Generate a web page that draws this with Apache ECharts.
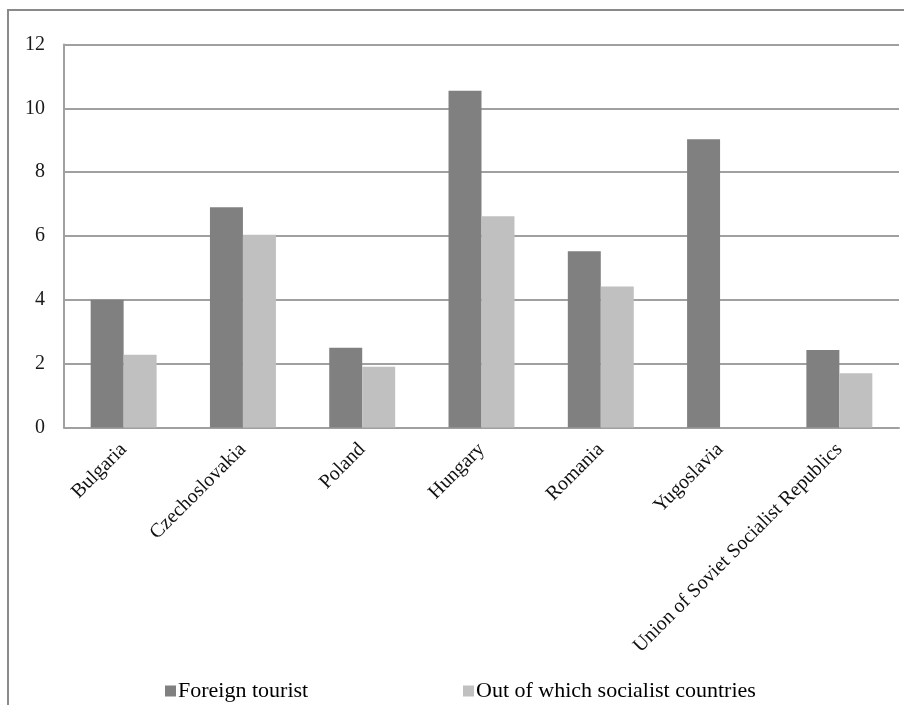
<!DOCTYPE html>
<html>
<head>
<meta charset="utf-8">
<script src="https://cdn.jsdelivr.net/npm/echarts@6/dist/echarts.min.js"></script>
<style>
  html, body { margin: 0; padding: 0; background: #fff; }
  #chart { width: 904px; height: 705px; }
</style>
</head>
<body>
<div id="chart"></div>
<script>
// Countries on the category axis
const countries = ['Bulgaria', 'Czechoslovakia', 'Poland', 'Hungary', 'Romania', 'Yugoslavia', 'Union of Soviet Socialist Republics'];
// Series values
const foreignTourist = [4.0, 6.9, 2.5, 10.55, 5.52, 9.03, 2.43];
const socialistCountries = [2.28, 6.04, 1.9, 6.62, 4.42, null, 1.7];
// Value axis ticks
const yTicks = [0, 2, 4, 6, 8, 10, 12];
const seriesNames = ['Foreign tourist', 'Out of which socialist countries'];

const FONT = '"Liberation Serif", "Times New Roman", serif';
const chart = echarts.init(document.getElementById('chart'));

const legendBase = {
  top: 675,
  itemWidth: 11,
  itemHeight: 11,
  icon: 'rect',
  textStyle: { fontFamily: FONT, fontSize: 22, color: '#000', padding: [0, 0, 0, -3] }
};

chart.setOption({
  animation: false,
  backgroundColor: '#ffffff',
  textStyle: { fontFamily: FONT, color: '#000' },
  graphic: [{
    type: 'polyline',
    shape: { points: [[8, 720], [8, 10], [920, 10]] },
    style: { stroke: '#8a8a8a', lineWidth: 2, fill: null },
    silent: true
  }],
  grid: { left: 64, right: 5, top: 44.5, bottom: 277.5, containLabel: false },
  legend: [
    Object.assign({ data: [seriesNames[0]], left: 160 }, legendBase),
    Object.assign({ data: [seriesNames[1]], left: 458 }, legendBase)
  ],
  xAxis: {
    type: 'category',
    data: countries,
    axisLine: { show: true, lineStyle: { color: '#a0a0a0', width: 2 } },
    axisTick: { show: false },
    axisLabel: { rotate: 45, margin: 19, interval: 0, fontFamily: FONT, fontSize: 20, color: '#111' }
  },
  yAxis: {
    type: 'value',
    min: yTicks[0],
    max: yTicks[yTicks.length - 1],
    interval: yTicks[1] - yTicks[0],
    axisLine: { show: true, lineStyle: { color: '#a0a0a0', width: 2 } },
    axisTick: { show: false },
    axisLabel: { margin: 19, fontFamily: FONT, fontSize: 20, color: '#1a1a1a' },
    splitLine: { show: true, lineStyle: { color: '#a0a0a0', width: 2 } }
  },
  series: [
    {
      name: seriesNames[0],
      type: 'bar',
      data: foreignTourist,
      barGap: '0%',
      barCategoryGap: '44.7%',
      itemStyle: { color: '#808080' }
    },
    {
      name: seriesNames[1],
      type: 'bar',
      data: socialistCountries,
      itemStyle: { color: '#c0c0c0' }
    }
  ]
});
</script>
</body>
</html>
